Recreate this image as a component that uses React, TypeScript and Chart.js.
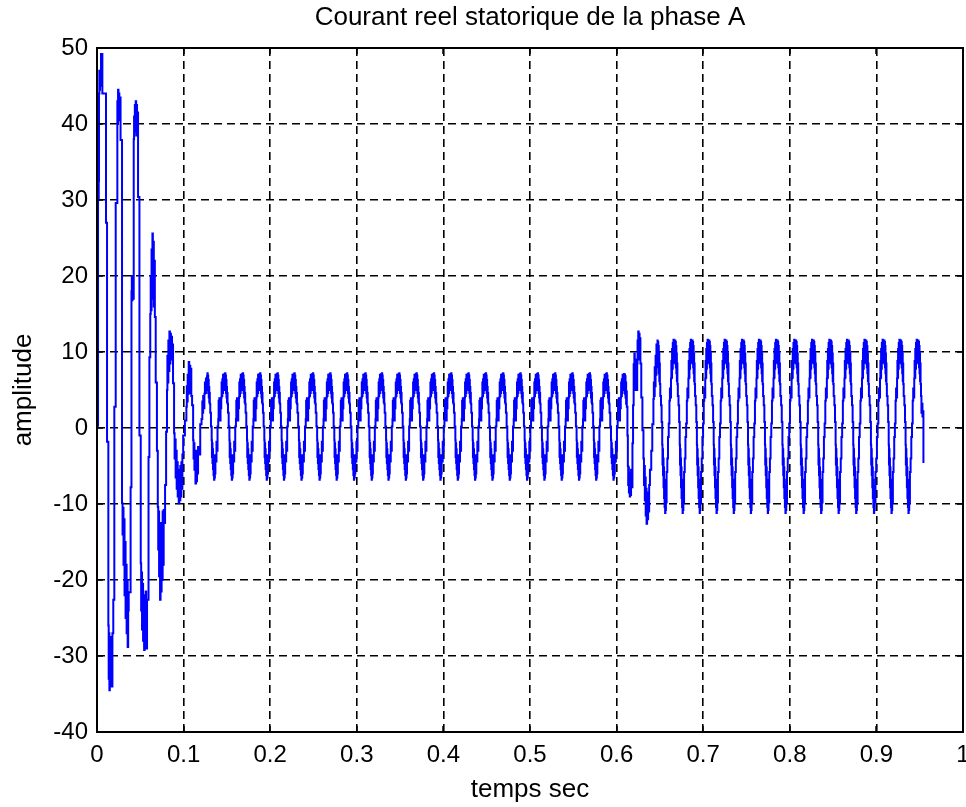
import React, { useEffect, useRef } from 'react';
import { Chart, registerables } from 'chart.js';

Chart.register(...registerables);

const chartTitle = 'Courant reel statorique de la phase A';
const xAxisLabel = 'temps sec';
const yAxisLabel = 'amplitude';
const xTickLabels = ['0', '0.1', '0.2', '0.3', '0.4', '0.5', '0.6', '0.7', '0.8', '0.9', '1'];
const yTickLabels = ['-40', '-30', '-20', '-10', '0', '10', '20', '30', '40', '50'];

// start-up transient [time s, current A] (level held until next point)
const transientStart: number[][] = [
  [0, 0.3],
  [0.0012, 31.5], [0.0016, 30.0], [0.002, 32.5], [0.0023, 44.0], [0.0027, 47.0], [0.0031, 44.5], [0.0035, 46.5], [0.004, 45.0], [0.0046, 49.2],
  [0.0062, 44.0], [0.0104, 27.0], [0.0116, -1.8], [0.0131, -26.0],
  [0.0135, -33.0], [0.0139, -27.0], [0.0143, -34.5], [0.0148, -28.0], [0.0153, -34.0], [0.0158, -27.5], [0.0163, -33.5], [0.0168, -29.0], [0.0173, -34.0], [0.0178, -27.0],
  [0.0188, -22.6], [0.02, 2.8], [0.0216, 29.6], [0.0235, 43.0],
  [0.0239, 40.0], [0.0243, 44.5], [0.0248, 41.0], [0.0253, 44.0], [0.0258, 40.5], [0.0263, 43.5],
  [0.0272, 37.9], [0.0289, -9.9],
  [0.0295, -14.0], [0.03, -10.5], [0.0306, -18.0], [0.0312, -12.0], [0.0318, -22.0], [0.0324, -15.0], [0.033, -25.0], [0.0336, -18.0], [0.0342, -27.0], [0.0348, -20.0], [0.0354, -28.8], [0.036, -24.0],
  [0.0366, -21.6], [0.0388, -7.8], [0.0398, 18.0], [0.0402, 20.0], [0.0406, 16.8], [0.041, 19.5], [0.0416, 17.0],
  [0.0424, 38.0], [0.0428, 41.0], [0.0432, 38.5], [0.0437, 42.5], [0.0442, 39.0], [0.0447, 43.0], [0.0452, 40.0], [0.0457, 42.5], [0.0462, 38.5], [0.0467, 41.5],
  [0.0474, 30.4], [0.049, -1.0], [0.0505, -17.8],
  [0.051, -24.0], [0.0515, -19.0], [0.052, -26.5], [0.0526, -20.5], [0.0532, -28.0], [0.0538, -22.0], [0.0544, -29.2], [0.055, -23.0], [0.0556, -28.5], [0.0562, -21.5], [0.0568, -29.0],
  [0.0578, -22.6], [0.0595, -3.8], [0.0605, 9.3], [0.0615, 15.0],
  [0.062, 20.0], [0.0625, 15.5], [0.063, 23.5], [0.0635, 17.0], [0.064, 25.6], [0.0645, 18.5], [0.065, 24.5], [0.0656, 16.0], [0.0662, 22.0], [0.0668, 14.6],
  [0.0678, 6.0], [0.0692, -3.0], [0.0702, -10.4],
  [0.0707, -16.0], [0.0712, -11.0], [0.0717, -19.5], [0.0722, -12.5], [0.0728, -22.6], [0.0734, -14.0], [0.074, -21.5], [0.0746, -12.5], [0.0752, -20.0], [0.0758, -11.0], [0.0764, -18.0], [0.077, -10.8], [0.0776, -12.5],
  [0.0786, -7.5], [0.0798, -0.5], [0.0808, 5.0],
  [0.0813, 9.5], [0.0818, 6.0], [0.0824, 11.5], [0.083, 7.5], [0.0836, 12.7], [0.0842, 8.5], [0.0848, 12.4], [0.0854, 9.0], [0.086, 12.0], [0.0866, 9.5], [0.0872, 11.0],
  [0.0878, 5.9], [0.089, -0.7],
  [0.0896, -4.0], [0.0902, -1.5], [0.0908, -6.5], [0.0914, -3.0], [0.092, -8.0], [0.0926, -4.5], [0.0932, -9.0], [0.0938, -5.5], [0.0944, -9.9], [0.095, -6.0], [0.0956, -9.5], [0.0962, -5.0], [0.0968, -9.0], [0.0974, -4.5], [0.098, -8.0], [0.0986, -3.5],
  [0.0995, -1.0], [0.1015, 1.0], [0.1032, 2.8],
  [0.1037, 5.5], [0.1042, 3.5], [0.1047, 7.0], [0.1053, 4.5], [0.1059, 8.7], [0.1065, 5.0], [0.1071, 8.2], [0.1077, 4.6], [0.1083, 7.8], [0.1089, 4.2],
  [0.1098, 3.0], [0.111, -1.6],
  [0.1115, -4.0], [0.112, -2.0], [0.1125, -5.5], [0.1131, -3.0], [0.1137, -7.3], [0.1143, -3.5], [0.1149, -7.0], [0.1155, -3.0], [0.1161, -6.0], [0.1167, -2.5],
  [0.1178, -3.5], [0.1192, 0.5], [0.1207, 1.2],
  [0.1216, 3.5], [0.1221, 2.0], [0.1226, 4.2], [0.1232, 2.6], [0.124, 4.5], [0.1246, 6.0], [0.1252, 4.6], [0.1258, 6.5], [0.1264, 5.0], [0.127, 6.8],
];

// first steady state: peak times of each cycle (s)
const cycleStartsA = [
  0.1275, 0.148, 0.1684, 0.1884, 0.2085, 0.228, 0.2494, 0.2694, 0.2887, 0.31,
  0.329, 0.349, 0.369, 0.389, 0.409, 0.429, 0.449, 0.469, 0.489, 0.509,
  0.529, 0.549, 0.569, 0.5885,
];
// one period of the first steady state [fraction of period, current A]
const cycleShapeA: number[][] = [
  [0, 7.2], [0.015, 5.0], [0.03, 6.9], [0.045, 4.6], [0.06, 6.3], [0.075, 4.0], [0.09, 5.4], [0.105, 3.4], [0.12, 4.6], [0.135, 3.2],
  [0.16, 2.0], [0.2, 0.2],
  [0.24, -1.6], [0.255, -3.8], [0.27, -2.0], [0.285, -4.6], [0.3, -2.8], [0.315, -5.4], [0.33, -3.6], [0.345, -6.2], [0.36, -4.2], [0.375, -6.8], [0.39, -4.6], [0.405, -6.5], [0.42, -4.0], [0.435, -6.0], [0.45, -3.6],
  [0.48, -4.4], [0.51, -1.8], [0.54, -3.0], [0.57, 0.2],
  [0.61, 1.2], [0.63, 3.6], [0.65, 1.6], [0.67, 3.9], [0.69, 2.2], [0.71, 1.0], [0.74, 2.6],
  [0.78, 4.0], [0.8, 6.0], [0.82, 4.2], [0.84, 6.4], [0.86, 4.6], [0.88, 7.0], [0.9, 5.0], [0.92, 6.8], [0.94, 5.4], [0.96, 7.1], [0.98, 5.8],
];

// load step transition [time s, current A]
const transition: number[][] = [
  [0.6094, 7.0], [0.6097, 4.5], [0.61, 6.8], [0.6103, 4.0], [0.6107, 6.0], [0.611, 3.2], [0.6114, 4.8], [0.6118, 2.8],
  [0.6125, -1.0], [0.613, -5.0], [0.6134, -7.5], [0.6138, -5.2], [0.6142, -8.5], [0.6147, -6.0], [0.6152, -9.0], [0.6157, -6.5], [0.6162, -8.8], [0.6167, -5.5],
  [0.6175, -7.8], [0.6183, -2.0], [0.619, 3.0], [0.6197, 8.4], [0.62, 5.5], [0.6205, 9.8], [0.621, 6.0], [0.6215, 9.0], [0.622, 5.0],
  [0.6238, 8.5], [0.6242, 11.5], [0.6246, 9.0], [0.625, 12.7], [0.6255, 9.5], [0.626, 12.4], [0.6265, 9.0], [0.627, 11.8], [0.6275, 8.5],
  [0.6285, 4.0], [0.6298, -0.3], [0.631, -4.0],
  [0.6316, -7.5], [0.6321, -5.0], [0.6326, -9.5], [0.6331, -6.5], [0.6336, -11.5], [0.6341, -8.0], [0.6346, -12.6], [0.6352, -9.0], [0.6358, -12.0], [0.6364, -8.5], [0.637, -11.0], [0.6376, -7.5],
  [0.6385, -5.5], [0.64, -3.0], [0.6412, 0.5], [0.6425, 3.8],
  [0.643, 6.0], [0.6435, 4.2], [0.644, 8.0], [0.6445, 5.5], [0.645, 9.5], [0.6455, 7.0], [0.646, 11.0], [0.6465, 8.5],
];

// second steady state: peak times of each cycle (s)
const cycleStartsB = [
  0.6472, 0.6675, 0.6875, 0.7068, 0.7265, 0.7465, 0.766, 0.7857, 0.807, 0.8274,
  0.8474, 0.8678, 0.888, 0.909, 0.9283,
];
// one period of the second steady state [fraction of period, current A]
const cycleShapeB: number[][] = [
  [0, 11.5], [0.015, 8.5], [0.03, 11.3], [0.045, 8.0], [0.06, 10.8], [0.075, 7.2], [0.09, 9.8], [0.105, 6.2], [0.12, 8.5], [0.135, 5.8],
  [0.16, 4.2], [0.2, 3.0], [0.235, 0.8],
  [0.27, -2.2], [0.285, -4.8], [0.3, -2.8], [0.315, -6.2], [0.33, -4.0], [0.345, -7.8], [0.36, -5.2], [0.375, -9.2], [0.39, -6.8], [0.405, -10.4], [0.42, -8.0], [0.435, -11.2], [0.45, -8.6], [0.465, -10.8], [0.48, -7.6], [0.495, -9.8],
  [0.52, -5.8], [0.56, -4.0], [0.6, -1.2], [0.64, 0.6],
  [0.68, 3.6], [0.71, 5.2], [0.74, 4.0], [0.77, 6.5],
  [0.79, 8.8], [0.81, 6.6], [0.83, 10.4], [0.85, 7.8], [0.87, 11.2], [0.89, 8.6], [0.91, 11.6], [0.93, 9.0], [0.95, 11.4], [0.97, 9.4], [0.985, 11.0],
];

// end of the record [time s, current A]
const tail: number[][] = [
  [0.9483, 11.5], [0.9486, 8.5], [0.9489, 11.3], [0.9492, 8.0], [0.9495, 10.8], [0.9498, 7.2], [0.9501, 9.8], [0.9504, 6.2], [0.9507, 8.5], [0.951, 5.8],
  [0.9515, 4.2], [0.952, 2.0], [0.9527, 3.2], [0.9532, 1.5], [0.9537, 2.2], [0.9543, -4.6],
];

function buildSeries() {
  const pts: { x: number; y: number }[] = [];
  const pushPairs = (arr: number[][]) => arr.forEach(([x, y]) => pts.push({ x, y }));
  const addCycles = (starts: number[], end: number, shape: number[][]) => {
    starts.forEach((s, i) => {
      const next = i < starts.length - 1 ? starts[i + 1] : end;
      const dur = next - s;
      shape.forEach(([ph, v]) => pts.push({ x: s + ph * dur, y: v }));
    });
  };
  pushPairs(transientStart);
  addCycles(cycleStartsA, transition[0][0], cycleShapeA);
  pushPairs(transition);
  addCycles(cycleStartsB, tail[0][0], cycleShapeB);
  pushPairs(tail);
  return pts;
}

const FONT = "'Liberation Sans', Arial, Helvetica, sans-serif";

const boxPlugin = {
  id: 'matlabBox',
  afterDatasetsDraw(chart: any) {
    const { ctx, chartArea, scales } = chart;
    const { left, right, top, bottom } = chartArea;
    ctx.save();
    ctx.strokeStyle = '#000';
    ctx.lineWidth = 1.5;
    ctx.beginPath();
    const tl = 6;
    scales.x.ticks.forEach((t: any) => {
      const px = Math.round(scales.x.getPixelForValue(t.value));
      ctx.moveTo(px, bottom);
      ctx.lineTo(px, bottom - tl);
      ctx.moveTo(px, top);
      ctx.lineTo(px, top + tl);
    });
    scales.y.ticks.forEach((t: any) => {
      const py = Math.round(scales.y.getPixelForValue(t.value));
      ctx.moveTo(left, py);
      ctx.lineTo(left + tl, py);
      ctx.moveTo(right, py);
      ctx.lineTo(right - tl, py);
    });
    ctx.stroke();
    ctx.lineWidth = 2;
    ctx.strokeRect(left, top, right - left, bottom - top);
    ctx.restore();
  },
};

export default function App() {
  const canvasRef = useRef<HTMLCanvasElement | null>(null);

  useEffect(() => {
    const canvas = canvasRef.current;
    if (!canvas) return;
    const chart = new Chart(canvas, {
      type: 'line',
      data: {
        datasets: [
          {
            data: buildSeries(),
            borderColor: 'rgb(0,0,255)',
            borderWidth: 2,
            pointRadius: 0,
            stepped: true,
            fill: false,
            tension: 0,
          },
        ],
      },
      options: {
        animation: false,
        responsive: false,
        devicePixelRatio: 1,
        parsing: false,
        normalized: true,
        events: [],
        layout: { padding: { left: 0, right: 3, top: 0, bottom: 0 } },
        plugins: {
          legend: { display: false },
          tooltip: { enabled: false },
          title: {
            display: true,
            fullSize: false,
            text: chartTitle,
            color: '#000',
            font: { family: FONT, size: 26, weight: 'normal', lineHeight: 1.2 },
            padding: { top: 2, bottom: 14.8 },
          },
        },
        scales: {
          x: {
            type: 'linear',
            min: 0,
            max: 1,
            afterFit: (scale: any) => {
              scale.height = 75;
              scale.paddingLeft = 0;
              scale.paddingRight = 0;
            },
            ticks: {
              stepSize: 0.1,
              color: '#000',
              font: { family: FONT, size: 24 },
              padding: 9,
              maxRotation: 0,
              autoSkip: false,
              callback: (_v: any, i: number) => xTickLabels[i],
            },
            grid: { color: '#000', lineWidth: 1.6, drawTicks: false },
            border: { display: false, dash: [8, 5] },
            title: {
              display: true,
              text: xAxisLabel,
              color: '#000',
              font: { family: FONT, size: 26, lineHeight: 1.2 },
              padding: { top: 0, bottom: 1.4 },
            },
          },
          y: {
            type: 'linear',
            min: -40,
            max: 50,
            afterFit: (scale: any) => {
              scale.width = 97;
              scale.paddingTop = 0;
              scale.paddingBottom = 0;
            },
            ticks: {
              stepSize: 10,
              color: '#000',
              font: { family: FONT, size: 24 },
              padding: 9,
              autoSkip: false,
              callback: (_v: any, i: number) => yTickLabels[i],
            },
            grid: { color: '#000', lineWidth: 1.6, drawTicks: false },
            border: { display: false, dash: [8, 5] },
            title: {
              display: true,
              text: yAxisLabel,
              color: '#000',
              font: { family: FONT, size: 26, lineHeight: 1.2 },
              padding: { top: 8, bottom: 0 },
            },
          },
        },
      },
      plugins: [boxPlugin],
    } as any);
    return () => chart.destroy();
  }, []);

  return (
    <div style={{ position: 'fixed', left: 0, top: 0, width: 966, height: 807, background: '#fff' }}>
      <canvas ref={canvasRef} width={966} height={807} style={{ display: 'block', width: 966, height: 807 }} />
    </div>
  );
}
